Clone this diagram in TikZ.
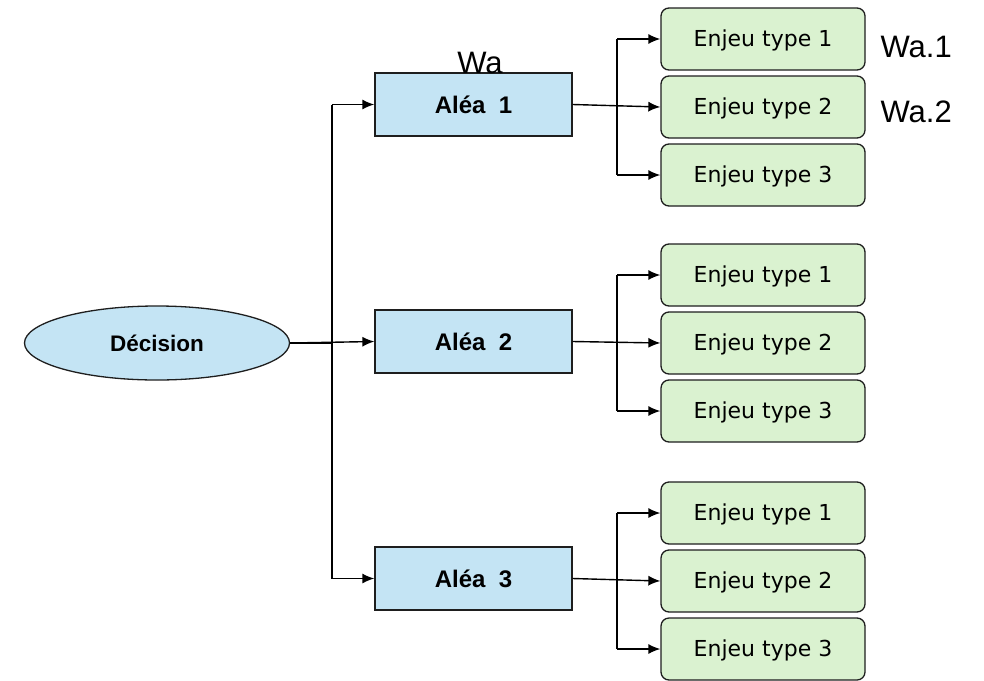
\documentclass[tikz,border=0pt]{standalone}
\usepackage{fontspec}
\setmainfont{Liberation Sans}
\newfontfamily\enjeufont{DejaVu Sans}
\usetikzlibrary{shapes.geometric,arrows.meta}
\definecolor{aleablue}{RGB}{196,228,244}
\definecolor{enjeugreen}{RGB}{218,242,208}
\definecolor{edgegray}{RGB}{30,30,30}
\begin{document}
\begin{tikzpicture}[x=1pt,y=-1pt,
  alea/.style={draw=edgegray,line width=1.3pt,fill=aleablue,minimum width=197pt,minimum height=63pt,font=\fontsize{24}{28}\selectfont\bfseries},
  enjeu/.style={draw=edgegray,line width=1.3pt,fill=enjeugreen,rounded corners=8pt,minimum width=204pt,minimum height=62pt,text height=15pt,text depth=1pt,font=\enjeufont\fontsize{22}{25}\selectfont},
  conn/.style={line width=1.4pt,draw=black},
  arr/.style={conn,-{Latex[length=12pt,width=10pt]}},
  wlabel/.style={font=\fontsize{31}{34}\selectfont}]
\useasboundingbox (0,0) rectangle (984,680);
\node[ellipse,draw=edgegray,line width=1.3pt,fill=aleablue,minimum width=265pt,minimum height=74pt,inner sep=0pt,font=\fontsize{22.5}{26}\selectfont\bfseries] (dec) at (157,343) {Décision};
\node[alea] (a1) at (473.5,104.5) {Aléa\ \ 1};
\node[alea] (a2) at (473.5,341.5) {Aléa\ \ 2};
\node[alea] (a3) at (473.5,578.5) {Aléa\ \ 3};
\foreach \g/\y in {1/39,2/275,3/513}{
  \node[enjeu] (e\g1) at (763,\y) {Enjeu type 1};
  \node[enjeu] (e\g2) at (763,\y+68) {Enjeu type 2};
  \node[enjeu] (e\g3) at (763,\y+136) {Enjeu type 3};
}
\node[wlabel,anchor=base] (wa) at (480,73) {Wa};
\node[wlabel,anchor=base west] (wa1) at (877,57) {Wa.1};
\node[wlabel,anchor=base west] (wa2) at (877,122) {Wa.2};
% trunk
\coordinate (t1) at (332,104.5);
\coordinate (t3) at (332,578.5);
\draw[conn] (dec.east) -- (332,343);
\draw[arr] (dec.east) -- (a2.west);
\draw[arr] (t1) -- (a1.west);
\draw[arr] (t3) -- (a3.west);
\draw[conn] (t1) -- (t3);
% branches
\foreach \g in {1,2,3}{
  \draw[arr] (a\g.east) -- (e\g2.west);
  \draw[arr] (617,0 |- e\g1.west) -- (e\g1.west);
  \draw[arr] (617,0 |- e\g3.west) -- (e\g3.west);
  \draw[conn] (617,0 |- e\g1.west) -- (617,0 |- e\g3.west);
}
\end{tikzpicture}
\end{document}
